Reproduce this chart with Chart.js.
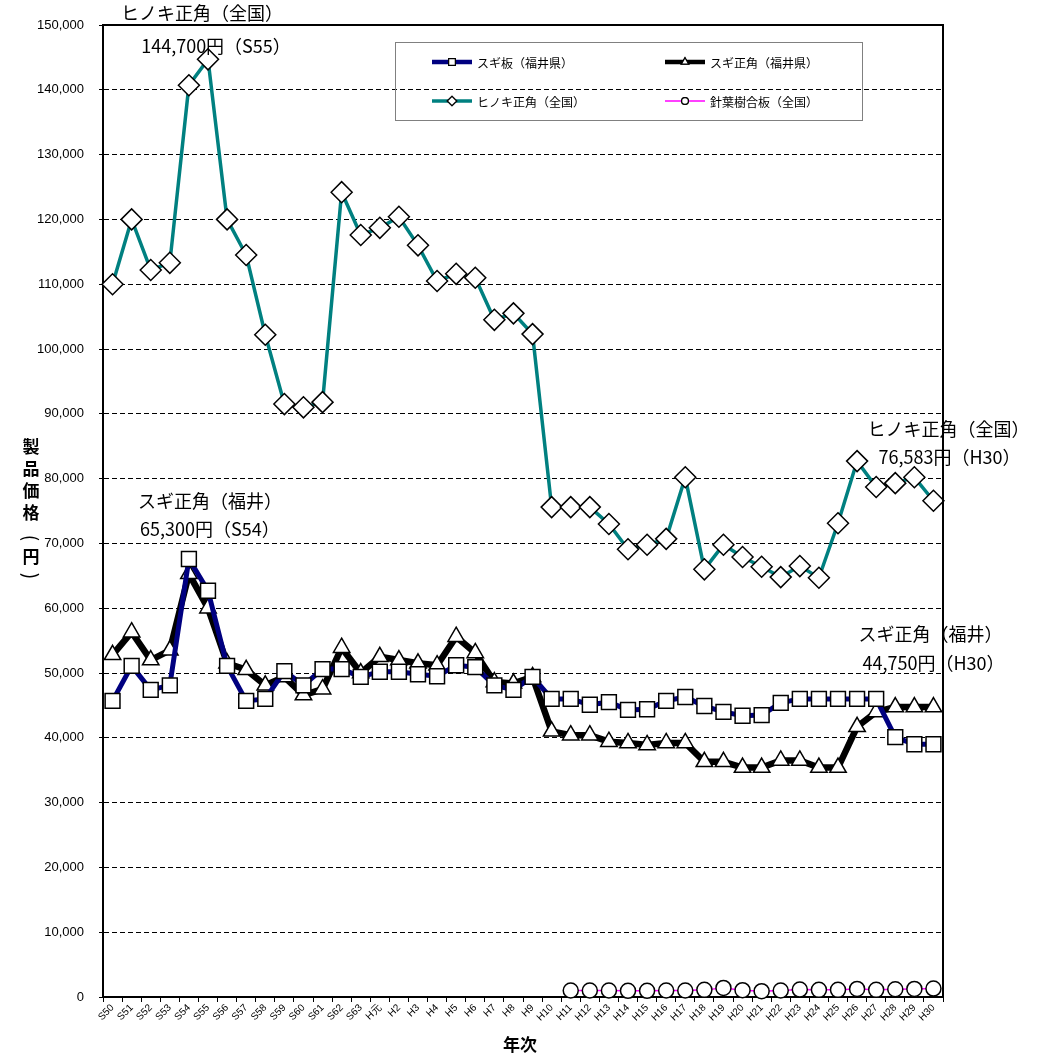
<!DOCTYPE html>
<html>
<head>
<meta charset="utf-8">
<script src="https://cdn.jsdelivr.net/npm/chart.js@4.4.1/dist/chart.umd.min.js"></script>
<style>
  html, body { margin: 0; padding: 0; background: #fff; }
  canvas { display: block; }
</style>
</head>
<body>
<canvas id="price-chart" width="1047" height="1061"></canvas>
<script>
// 年次
var years = ["S50","S51","S52","S53","S54","S55","S56","S57","S58","S59","S60","S61","S62","S63",
  "H元","H2","H3","H4","H5","H6","H7","H8","H9","H10","H11","H12","H13","H14","H15","H16",
  "H17","H18","H19","H20","H21","H22","H23","H24","H25","H26","H27","H28","H29","H30"];

// スギ板（福井県）
var sugiIta = [45700,51100,47400,48100,67600,62700,51100,45700,46000,50300,48100,50600,50600,49400,
  50200,50200,49800,49500,51200,50900,48100,47400,49400,46000,46000,45100,45500,44300,44400,45700,
  46300,44900,44000,43400,43500,45400,46000,46000,46000,46000,46000,40100,39000,39000];

// スギ正角（福井県）
var sugiKaku = [52800,56300,52000,53500,65300,60000,51500,50500,48100,49400,46600,47500,53900,50000,
  52500,52000,51500,51200,55600,53100,48600,48400,49400,41000,40400,40400,39400,39200,38900,39200,
  39200,36300,36300,35400,35400,36500,36500,35400,35400,41700,44000,44750,44750,44750];

// ヒノキ正角（全国）
var hinoki = [110000,120000,112200,113300,140700,144700,120000,114500,102200,91500,91000,91800,124200,117600,
  118700,120400,116000,110500,111600,111000,104500,105500,102300,75600,75600,75600,73000,69100,69800,70700,
  80200,66000,69800,67900,66400,64800,66500,64700,73100,82700,78700,79300,80200,76583];

// 針葉樹合板（全国）
var goban = [null,null,null,null,null,null,null,null,null,null,null,null,null,null,
  null,null,null,null,null,null,null,null,null,null,1000,1000,1000,950,950,1000,
  1000,1100,1400,1050,900,1000,1150,1100,1100,1250,1100,1200,1250,1300];

var yTicks = [0,10000,20000,30000,40000,50000,60000,70000,80000,90000,100000,110000,120000,130000,140000,150000];

var jp = '"Noto Sans CJK JP", "Noto Sans", sans-serif';
var num = '"Liberation Sans", Arial, sans-serif';

function fmt(v){ return Math.round(v).toLocaleString('en-US'); }

var series = [
  {label:"スギ板（福井県）", data:sugiIta, color:"#000080", width:5, style:"rect", r:10.5},
  {label:"スギ正角（福井県）", data:sugiKaku, color:"#000000", width:6.5, style:"triangle", r:9.5},
  {label:"ヒノキ正角（全国）", data:hinoki, color:"#008080", width:3.5, style:"rectRot", r:10.5},
  {label:"針葉樹合板（全国）", data:goban, color:"#ff00ff", width:1.5, style:"circle", r:7.5}
];

// peak / latest labels, tied to data points
var notes = [
  {ds:2, i:5, lines:["ヒノキ正角（全国）", fmt(hinoki[5])+"円（S55）"], dx:[-6,8], dy:[-46,-13]},
  {ds:2, i:43, lines:["ヒノキ正角（全国）", fmt(hinoki[43])+"円（H30）"], dx:[15,16], dy:[-72,-44]},
  {ds:1, i:4, lines:["スギ正角（福井）", fmt(sugiKaku[4])+"円（S54）"], dx:[21,21], dy:[-73,-45]},
  {ds:1, i:43, lines:["スギ正角（福井）", fmt(sugiKaku[43])+"円（H30）"], dx:[-3,0], dy:[-73,-44]}
];

var extras = {
  id: 'extras',
  afterDraw: function(chart){
    var ctx = chart.ctx, a = chart.chartArea;
    var xs = chart.scales.x, ys = chart.scales.y;
    ctx.save();

    // notes (under the frame, as in the original)
    ctx.fillStyle = '#000';
    ctx.textAlign = 'center'; ctx.textBaseline = 'middle';
    ctx.font = '18px ' + jp;
    notes.forEach(function(n){
      var px = xs.getPixelForValue(n.i);
      var py = ys.getPixelForValue(series[n.ds].data[n.i]);
      n.lines.forEach(function(t, k){
        ctx.fillText(t, px + n.dx[k], py + n.dy[k]);
      });
    });

    // frame top/right
    ctx.strokeStyle = '#000'; ctx.lineWidth = 2;
    ctx.beginPath();
    ctx.moveTo(a.left, a.top); ctx.lineTo(a.right, a.top); ctx.lineTo(a.right, a.bottom);
    ctx.stroke();

    // y title, stacked; brackets turned on their side
    var chars = ["製","品","価","格","(","円",")"];
    ctx.font = 'bold 17px ' + jp;
    chars.forEach(function(c, k){
      var y = 447 + k * 22;
      if (c === "(" || c === ")") {
        ctx.save();
        ctx.translate(31, y + (c === "(" ? 3 : -3));
        ctx.rotate(Math.PI / 2);
        ctx.font = '19px ' + jp;
        ctx.fillText(c, 0, 0);
        ctx.restore();
      } else {
        ctx.fillText(c, 31, y);
      }
    });
    // x title
    ctx.fillText("年次", (a.left + a.right) / 2 - 3, 1045);

    // legend
    ctx.strokeStyle = '#808080'; ctx.lineWidth = 1;
    ctx.strokeRect(395.5, 42.5, 467, 78);
    var pos = [[432,62],[665,62],[432,101],[665,101]];
    ctx.font = '12px ' + jp;
    ctx.textAlign = 'left';
    series.forEach(function(s, k){
      var x = pos[k][0], y = pos[k][1];
      ctx.strokeStyle = s.color; ctx.lineWidth = Math.min(s.width, 4.5);
      if (k === 3) ctx.lineWidth = 1.5;
      ctx.beginPath(); ctx.moveTo(x, y); ctx.lineTo(x + 40, y); ctx.stroke();
      ctx.fillStyle = '#fff'; ctx.strokeStyle = '#000'; ctx.lineWidth = 1.2;
      Chart.helpers.drawPoint(ctx, {pointStyle: s.style, radius: s.r * 0.45, borderWidth: 1.2}, x + 20, y);
      ctx.fill(); ctx.stroke();
      ctx.fillStyle = '#000';
      ctx.fillText(s.label, x + 45, y + 1);
    });
    ctx.restore();
  }
};

new Chart(document.getElementById("price-chart"), {
  type: 'line',
  data: {
    labels: years,
    datasets: series.map(function(s){
      return {
        label: s.label,
        data: s.data,
        borderColor: s.color,
        borderWidth: s.width,
        pointStyle: s.style,
        pointRadius: s.r,
        pointBackgroundColor: '#fff',
        pointBorderColor: '#000',
        pointBorderWidth: 1.5,
        tension: 0,
        spanGaps: false,
        clip: false
      };
    })
  },
  options: {
    responsive: false,
    animation: false,
    devicePixelRatio: 1,
    layout: { padding: { top: 25, right: 104, left: 0, bottom: 0 } },
    plugins: {
      legend: { display: false },
      tooltip: { enabled: false }
    },
    scales: {
      x: {
        offset: true,
        grid: { display: true, drawOnChartArea: false, drawTicks: true, tickLength: 5, color: '#000', offset: true },
        border: { display: true, color: '#000', width: 2 },
        ticks: {
          minRotation: 45, maxRotation: 45, autoSkip: false, padding: 0,
          color: '#000', font: { family: num, size: 10 }
        },
        afterFit: function(scale){ scale.height = 64; }
      },
      y: {
        min: 0, max: 150000,
        afterBuildTicks: function(scale){ scale.ticks = yTicks.map(function(v){ return {value: v}; }); },
        grid: { color: '#000', lineWidth: 1, drawTicks: true, tickLength: 4 },
        border: { display: true, color: '#000', width: 2, dash: [5, 3] },
        ticks: {
          padding: 15, color: '#000', font: { family: num, size: 13 },
          callback: function(v){ return fmt(v); }
        },
        afterFit: function(scale){ scale.width = 103; }
      }
    }
  },
  plugins: [extras]
});
</script>
</body>
</html>
